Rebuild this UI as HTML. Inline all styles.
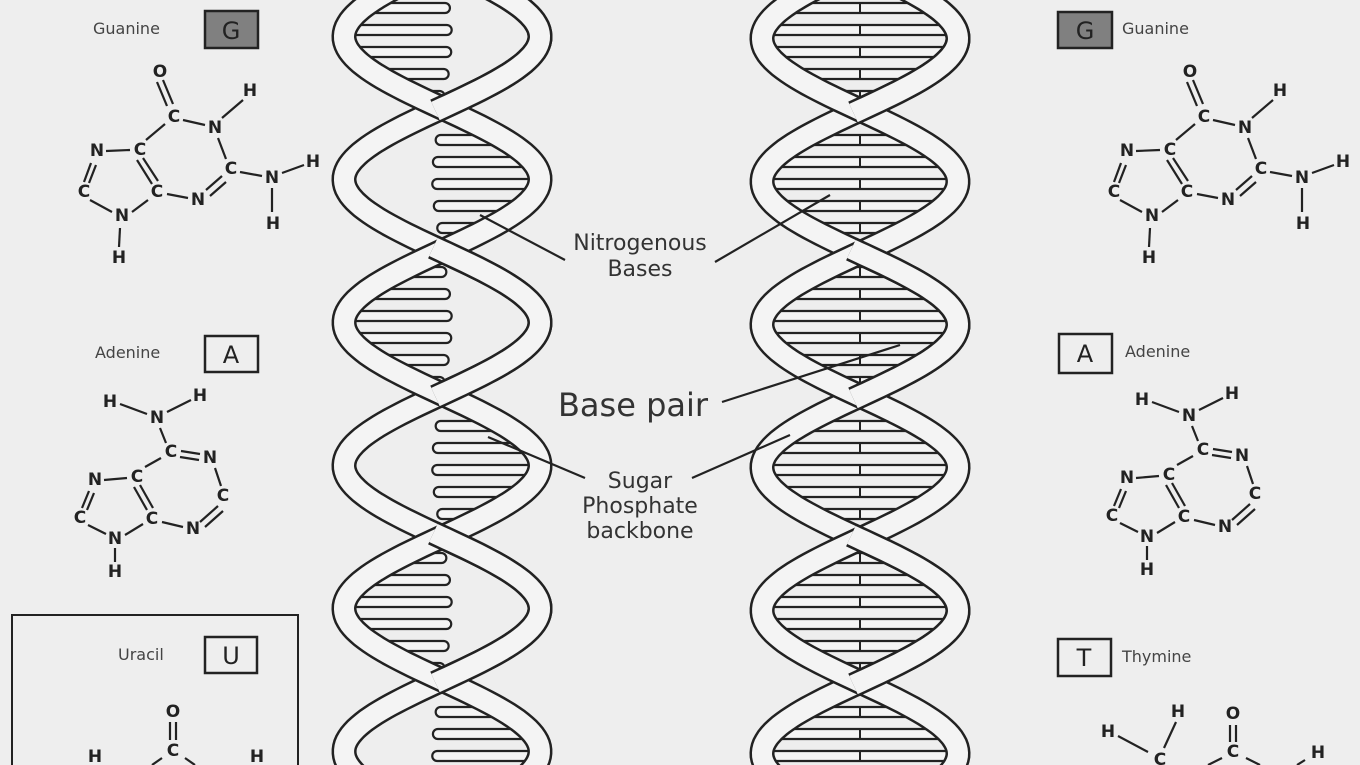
<!DOCTYPE html>
<html><head><meta charset="utf-8"><style>
html,body{margin:0;padding:0;background:#eeeeee;width:1360px;height:765px;overflow:hidden;}
svg{display:block}
text{font-family:"DejaVu Sans","Liberation Sans",sans-serif;fill:#222;}
.at{font-size:17px;font-weight:bold;text-anchor:middle;dominant-baseline:central;}
.lbl{font-size:16px;fill:#444;}
.big{font-size:22px;fill:#333;text-anchor:middle;}
.b{stroke:#222;stroke-width:2.2;fill:none}
</style></head><body>
<svg id="s" width="1360" height="765" viewBox="0 0 1360 765" xmlns="http://www.w3.org/2000/svg">
<rect width="1360" height="765" fill="#eeeeee"/>
<g id="helix"></g>

<g stroke="#222" stroke-width="2.2">
<line x1="565" y1="260" x2="480" y2="215"/>
<line x1="715" y1="262" x2="830" y2="195"/>
<line x1="722" y1="402" x2="900" y2="345"/>
<line x1="585" y1="478" x2="488" y2="437"/>
<line x1="692" y1="478" x2="790" y2="435"/>
</g>
<text class="big" x="640" y="250">Nitrogenous</text>
<text class="big" x="640" y="276">Bases</text>
<text x="633" y="416" style="font-size:32px;fill:#333;text-anchor:middle">Base pair</text>
<text class="big" x="640" y="488">Sugar</text>
<text class="big" x="640" y="513">Phosphate</text>
<text class="big" x="640" y="538">backbone</text>

<text class="lbl" x="93" y="34">Guanine</text>
<rect x="205" y="11" width="53" height="37" fill="#808080" stroke="#222" stroke-width="2.5"/>
<text x="231" y="39" style="font-size:24px;text-anchor:middle;fill:#222">G</text>
<text class="lbl" x="95" y="358">Adenine</text>
<rect x="205" y="336" width="53" height="36" fill="none" stroke="#222" stroke-width="2.5"/>
<text x="231" y="363" style="font-size:24px;text-anchor:middle">A</text>
<path d="M12,765 V615 H298 V765" fill="none" stroke="#222" stroke-width="2"/>
<text class="lbl" x="118" y="660">Uracil</text>
<rect x="205" y="637" width="52" height="36" fill="none" stroke="#222" stroke-width="2.5"/>
<text x="231" y="664" style="font-size:24px;text-anchor:middle">U</text>

<text class="lbl" x="1122" y="34">Guanine</text>
<rect x="1058" y="12" width="54" height="36" fill="#808080" stroke="#222" stroke-width="2.5"/>
<text x="1085" y="39" style="font-size:24px;text-anchor:middle;fill:#222">G</text>
<text class="lbl" x="1125" y="357">Adenine</text>
<rect x="1059" y="334" width="53" height="39" fill="none" stroke="#222" stroke-width="2.5"/>
<text x="1085" y="362" style="font-size:24px;text-anchor:middle">A</text>
<text class="lbl" x="1122" y="662">Thymine</text>
<rect x="1058" y="639" width="53" height="37" fill="none" stroke="#222" stroke-width="2.5"/>
<text x="1084" y="666" style="font-size:24px;text-anchor:middle">T</text>

<g>
<g class="b">
<line x1="157" y1="82" x2="167" y2="106"/><line x1="163" y1="80" x2="173" y2="104"/>
<line x1="183" y1="120" x2="205" y2="125"/><line x1="222" y1="118" x2="243" y2="100"/>
<line x1="218" y1="138" x2="226" y2="159"/><line x1="240" y1="172" x2="262" y2="176"/>
<line x1="282" y1="173" x2="304" y2="165"/><line x1="272" y1="188" x2="272" y2="212"/>
<line x1="222" y1="176" x2="206" y2="190"/><line x1="226" y1="182" x2="210" y2="196"/>
<line x1="188" y1="198" x2="167" y2="194"/>
<line x1="137" y1="160" x2="152" y2="184"/><line x1="143" y1="158" x2="158" y2="181"/>
<line x1="146" y1="140" x2="165" y2="124"/>
<line x1="106" y1="151" x2="130" y2="150"/>
<line x1="91" y1="163" x2="84" y2="182"/><line x1="96" y1="165" x2="89" y2="183"/>
<line x1="90" y1="200" x2="112" y2="212"/><line x1="132" y1="212" x2="148" y2="200"/>
<line x1="120" y1="228" x2="119" y2="247"/>
</g>
<text class="at" x="160" y="72">O</text><text class="at" x="174" y="117">C</text>
<text class="at" x="215" y="128">N</text><text class="at" x="250" y="91">H</text>
<text class="at" x="231" y="169">C</text><text class="at" x="272" y="178">N</text>
<text class="at" x="313" y="162">H</text><text class="at" x="273" y="224">H</text>
<text class="at" x="198" y="200">N</text><text class="at" x="157" y="192">C</text>
<text class="at" x="140" y="150">C</text><text class="at" x="97" y="151">N</text>
<text class="at" x="84" y="192">C</text><text class="at" x="122" y="216">N</text>
<text class="at" x="119" y="258">H</text>
</g>
<g transform="translate(1030,0)">
<g class="b">
<line x1="157" y1="82" x2="167" y2="106"/><line x1="163" y1="80" x2="173" y2="104"/>
<line x1="183" y1="120" x2="205" y2="125"/><line x1="222" y1="118" x2="243" y2="100"/>
<line x1="218" y1="138" x2="226" y2="159"/><line x1="240" y1="172" x2="262" y2="176"/>
<line x1="282" y1="173" x2="304" y2="165"/><line x1="272" y1="188" x2="272" y2="212"/>
<line x1="222" y1="176" x2="206" y2="190"/><line x1="226" y1="182" x2="210" y2="196"/>
<line x1="188" y1="198" x2="167" y2="194"/>
<line x1="137" y1="160" x2="152" y2="184"/><line x1="143" y1="158" x2="158" y2="181"/>
<line x1="146" y1="140" x2="165" y2="124"/>
<line x1="106" y1="151" x2="130" y2="150"/>
<line x1="91" y1="163" x2="84" y2="182"/><line x1="96" y1="165" x2="89" y2="183"/>
<line x1="90" y1="200" x2="112" y2="212"/><line x1="132" y1="212" x2="148" y2="200"/>
<line x1="120" y1="228" x2="119" y2="247"/>
</g>
<text class="at" x="160" y="72">O</text><text class="at" x="174" y="117">C</text>
<text class="at" x="215" y="128">N</text><text class="at" x="250" y="91">H</text>
<text class="at" x="231" y="169">C</text><text class="at" x="272" y="178">N</text>
<text class="at" x="313" y="162">H</text><text class="at" x="273" y="224">H</text>
<text class="at" x="198" y="200">N</text><text class="at" x="157" y="192">C</text>
<text class="at" x="140" y="150">C</text><text class="at" x="97" y="151">N</text>
<text class="at" x="84" y="192">C</text><text class="at" x="122" y="216">N</text>
<text class="at" x="119" y="258">H</text>
</g>

<g>
<g class="b">
<line x1="120" y1="404" x2="147" y2="414"/><line x1="167" y1="412" x2="191" y2="400"/>
<line x1="160" y1="428" x2="166" y2="443"/>
<line x1="181" y1="451" x2="200" y2="454"/><line x1="180" y1="457" x2="199" y2="460"/>
<line x1="215" y1="468" x2="221" y2="486"/>
<line x1="218" y1="506" x2="200" y2="522"/><line x1="223" y1="511" x2="205" y2="527"/>
<line x1="183" y1="527" x2="162" y2="522"/>
<line x1="134" y1="487" x2="147" y2="510"/><line x1="140" y1="485" x2="153" y2="508"/>
<line x1="145" y1="467" x2="161" y2="458"/>
<line x1="104" y1="480" x2="127" y2="478"/>
<line x1="89" y1="491" x2="82" y2="508"/><line x1="94" y1="493" x2="87" y2="510"/>
<line x1="88" y1="525" x2="106" y2="534"/><line x1="125" y1="535" x2="143" y2="524"/>
<line x1="115" y1="548" x2="115" y2="562"/>
</g>
<text class="at" x="110" y="402">H</text><text class="at" x="157" y="418">N</text>
<text class="at" x="200" y="396">H</text><text class="at" x="171" y="452">C</text>
<text class="at" x="210" y="458">N</text><text class="at" x="223" y="496">C</text>
<text class="at" x="193" y="529">N</text><text class="at" x="152" y="519">C</text>
<text class="at" x="137" y="477">C</text><text class="at" x="95" y="480">N</text>
<text class="at" x="80" y="518">C</text><text class="at" x="115" y="539">N</text>
<text class="at" x="115" y="572">H</text>
</g>
<g transform="translate(1032,-2)">
<g class="b">
<line x1="120" y1="404" x2="147" y2="414"/><line x1="167" y1="412" x2="191" y2="400"/>
<line x1="160" y1="428" x2="166" y2="443"/>
<line x1="181" y1="451" x2="200" y2="454"/><line x1="180" y1="457" x2="199" y2="460"/>
<line x1="215" y1="468" x2="221" y2="486"/>
<line x1="218" y1="506" x2="200" y2="522"/><line x1="223" y1="511" x2="205" y2="527"/>
<line x1="183" y1="527" x2="162" y2="522"/>
<line x1="134" y1="487" x2="147" y2="510"/><line x1="140" y1="485" x2="153" y2="508"/>
<line x1="145" y1="467" x2="161" y2="458"/>
<line x1="104" y1="480" x2="127" y2="478"/>
<line x1="89" y1="491" x2="82" y2="508"/><line x1="94" y1="493" x2="87" y2="510"/>
<line x1="88" y1="525" x2="106" y2="534"/><line x1="125" y1="535" x2="143" y2="524"/>
<line x1="115" y1="548" x2="115" y2="562"/>
</g>
<text class="at" x="110" y="402">H</text><text class="at" x="157" y="418">N</text>
<text class="at" x="200" y="396">H</text><text class="at" x="171" y="452">C</text>
<text class="at" x="210" y="458">N</text><text class="at" x="223" y="496">C</text>
<text class="at" x="193" y="529">N</text><text class="at" x="152" y="519">C</text>
<text class="at" x="137" y="477">C</text><text class="at" x="95" y="480">N</text>
<text class="at" x="80" y="518">C</text><text class="at" x="115" y="539">N</text>
<text class="at" x="115" y="572">H</text>
</g>

<g class="b">
<line x1="170" y1="722" x2="170" y2="740"/><line x1="176" y1="722" x2="176" y2="740"/>
<line x1="162" y1="758" x2="152" y2="765"/><line x1="185" y1="758" x2="195" y2="765"/>
</g>
<text class="at" x="173" y="712">O</text><text class="at" x="173" y="751">C</text>
<text class="at" x="95" y="757">H</text><text class="at" x="257" y="757">H</text>

<g class="b">
<line x1="1118" y1="736" x2="1148" y2="752"/><line x1="1176" y1="722" x2="1164" y2="748"/>
<line x1="1230" y1="725" x2="1230" y2="742"/><line x1="1236" y1="725" x2="1236" y2="742"/>
<line x1="1222" y1="758" x2="1208" y2="765"/><line x1="1246" y1="758" x2="1260" y2="765"/>
<line x1="1305" y1="760" x2="1297" y2="765"/>
</g>
<text class="at" x="1178" y="712">H</text><text class="at" x="1108" y="732">H</text>
<text class="at" x="1160" y="760">C</text><text class="at" x="1233" y="714">O</text>
<text class="at" x="1233" y="752">C</text><text class="at" x="1318" y="753">H</text>
</svg>
<script>
(function(){
var NS="http://www.w3.org/2000/svg", g=document.getElementById("helix");
var P=286, A=98;
function mk(t,a){var e=document.createElementNS(NS,t);for(var k in a)e.setAttribute(k,a[k]);g.appendChild(e);return e;}
function xa(c,y0,y){return c+A*Math.sin(2*Math.PI*(y-y0)/P);}
function pathSeg(c,y0,s,ya,yb){var d="";for(var y=ya;y<=yb;y+=3){d+=(y==ya?"M":"L")+(c+s*(xa(c,y0,y)-c)).toFixed(1)+","+y+" ";}return d;}
function ribbon(d){mk("path",{d:d,fill:"none",stroke:"#222","stroke-width":25,"stroke-linecap":"butt"});mk("path",{d:d,fill:"none",stroke:"#f4f4f4","stroke-width":20});}
function helix(c,y0,dbl){
  for(var y=8;y<760;y+=22){
    var x1=xa(c,y0,y), x2=2*c-x1;
    if(Math.abs(x1-x2)<50) continue;
    var l,r;
    if(dbl){l=Math.min(x1,x2);r=Math.max(x1,x2);
      mk("rect",{x:l,y:y-5,width:r-l,height:10,rx:5,fill:"#f4f4f4",stroke:"#222","stroke-width":2.2});
      mk("line",{x1:c,y1:y-5,x2:c,y2:y+5,stroke:"#222","stroke-width":2});
    } else {
      var e=x1+(x2-x1)*0.55; l=Math.min(x1,e); r=Math.max(x1,e);
      mk("rect",{x:l,y:y-5,width:r-l,height:10,rx:5,fill:"#f4f4f4",stroke:"#222","stroke-width":2.2});
    }
  }
  ribbon(pathSeg(c,y0,-1,-150,780));
  ribbon(pathSeg(c,y0,1,-150,780));
  for(var k=-1;k<6;k+=2){var ya=y0+k*P/2, yb=Math.min(ya+P/2,780); ribbon(pathSeg(c,y0,-1,Math.round(ya-4),Math.round(yb+4)));}
}
helix(442,108,false);
helix(860,110,true);
})();
</script>
</body></html>
